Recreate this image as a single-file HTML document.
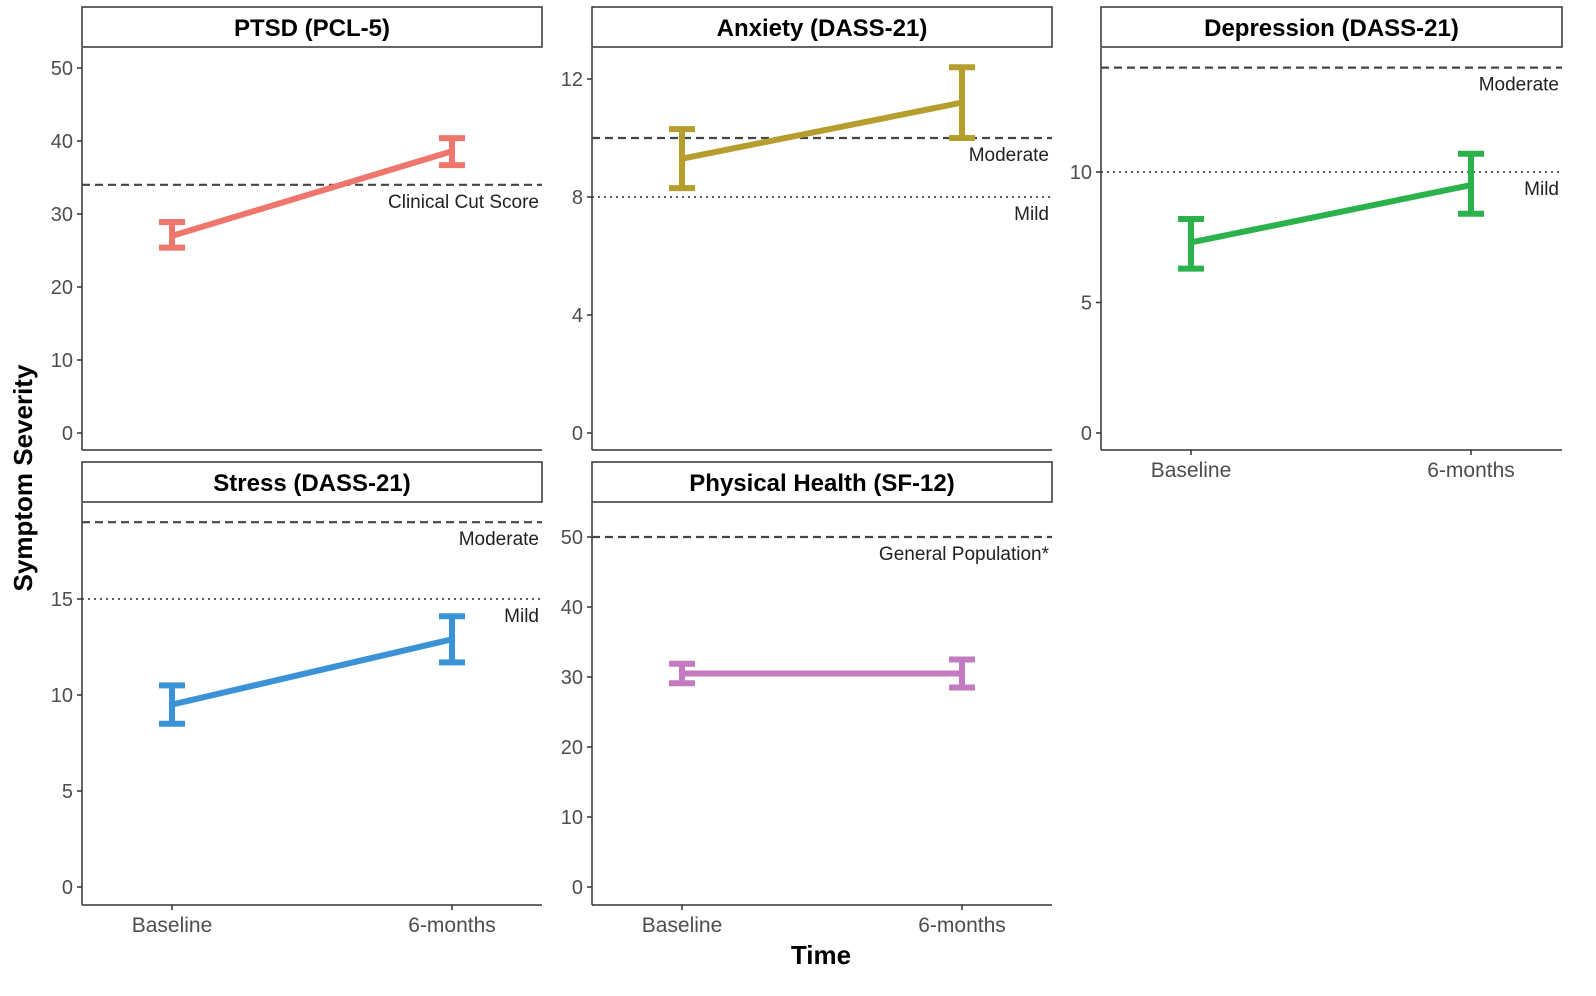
<!DOCTYPE html>
<html><head><meta charset="utf-8"><style>
html,body{margin:0;padding:0;background:#fff}
svg text{font-family:"Liberation Sans",sans-serif}
</style></head><body>
<svg id="chart" width="1596" height="991" viewBox="0 0 1596 991" xmlns="http://www.w3.org/2000/svg">
<text x="32" y="478" transform="rotate(-90 32 478)" text-anchor="middle" font-size="26" font-weight="bold">Symptom Severity</text>
<text x="821" y="964" text-anchor="middle" font-size="26" font-weight="bold">Time</text>
</svg>
<script>
const timeCategories = ["Baseline", "6-months"];
const panelTitles = ["PTSD (PCL-5)", "Anxiety (DASS-21)", "Depression (DASS-21)", "Stress (DASS-21)", "Physical Health (SF-12)"];
const meanValues = [[27, 38.6], [9.3, 11.2], [7.3, 9.5], [9.5, 12.9], [30.5, 30.5]];
const lowerValues = [[25.4, 36.7], [8.3, 10.0], [6.3, 8.4], [8.5, 11.7], [29.1, 28.5]];
const upperValues = [[28.9, 40.4], [10.3, 12.4], [8.2, 10.7], [10.5, 14.1], [31.9, 32.5]];
const yTicks = [[0,10,20,30,40,50],[0,4,8,12],[0,5,10],[0,5,10,15],[0,10,20,30,40,50]];
const refValues = [[34],[10,8],[14,10],[19,15],[50]];
const refLabels = [["Clinical Cut Score"],["Moderate","Mild"],["Moderate","Mild"],["Moderate","Mild"],["General Population*"]];
const refDash = [["dashed"],["dashed","dotted"],["dashed","dotted"],["dashed","dotted"],["dashed"]];
const colors = ["#ef766d","#b59d2e","#2bb24c","#3a93d6","#c27bc0"];
// layout: x0,x1,top(plot),bottom(plot), y0pixel, pxPerUnit
const layout = [
 {x0:82,x1:542,top:48,bot:450,zero:433,ppu:7.3},
 {x0:592,x1:1052,top:48,bot:450,zero:433,ppu:29.5},
 {x0:1101,x1:1562,top:48,bot:450,zero:433,ppu:26.1},
 {x0:82,x1:542,top:503,bot:905,zero:887,ppu:19.2},
 {x0:592,x1:1052,top:503,bot:905,zero:887,ppu:7.0}
];
const svg=document.getElementById('chart');
const NS="http://www.w3.org/2000/svg";
function mk(tag,attrs,parent){const e=document.createElementNS(NS,tag);for(const k in attrs)e.setAttribute(k,attrs[k]);(parent||svg).appendChild(e);return e;}
layout.forEach((L,i)=>{
 const g=mk('g',{});
 
 
 const y=v=>L.zero-v*L.ppu;
 const xs=[L.x0+90,L.x0+370];
 // strip
 const s=mk('rect',{x:L.x0,y:L.top-41,width:L.x1-L.x0,height:40,fill:'#fff',stroke:'#333','stroke-width':1.5},g);
 
 
 const st=mk('text',{x:(L.x0+L.x1)/2,y:L.top-12,'text-anchor':'middle','font-size':24,'font-weight':'bold'},g);
 st.textContent=panelTitles[i];
 
 
 // axes
 mk('line',{x1:L.x0,y1:L.top,x2:L.x0,y2:L.bot,stroke:'#333','stroke-width':1.5},g);
 mk('line',{x1:L.x0,y1:L.bot,x2:L.x1,y2:L.bot,stroke:'#333','stroke-width':1.5},g);
 yTicks[i].forEach(t=>{
  mk('line',{x1:L.x0-5,y1:y(t),x2:L.x0,y2:y(t),stroke:'#333','stroke-width':1.5},g);
  const tt=mk('text',{x:L.x0-9,y:y(t)+7,'text-anchor':'end','font-size':20,fill:'#4d4d4d'},g);
  tt.textContent=t;
  
  
 });
 if(i>=2){
  timeCategories.forEach((c,j)=>{
   mk('line',{x1:xs[j],y1:L.bot,x2:xs[j],y2:L.bot+5,stroke:'#333','stroke-width':1.5},g);
   const xt=mk('text',{x:xs[j],y:L.bot+27,'text-anchor':'middle','font-size':21,fill:'#4d4d4d'},g);
   xt.textContent=c;
   
   
  });
 }
 // reference lines
 refValues[i].forEach((r,k)=>{
  const ln=mk('line',{x1:L.x0,y1:y(r),x2:L.x1,y2:y(r),stroke:'#444','stroke-width':refDash[i][k]=='dashed'?2.2:1.8,'stroke-dasharray':refDash[i][k]=='dashed'?'8,5':'2,4'},g);
  
  
  const lt=mk('text',{x:L.x1-3,y:y(r)+23,'text-anchor':'end','font-size':19,fill:'#222'},g);
  lt.textContent=refLabels[i][k];
  
  
 });
 // series line
 const sl=mk('line',{x1:xs[0],y1:y(meanValues[i][0]),x2:xs[1],y2:y(meanValues[i][1]),stroke:colors[i],'stroke-width':6},g);
 
 
 timeCategories.forEach((c,j)=>{
  const eb=mk('path',{d:`M${xs[j]-13},${y(upperValues[i][j])}H${xs[j]+13}M${xs[j]},${y(upperValues[i][j])}V${y(lowerValues[i][j])}M${xs[j]-13},${y(lowerValues[i][j])}H${xs[j]+13}`,stroke:colors[i],'stroke-width':6,fill:'none'},g);
  
  
 });
});
</script>
</body></html>
